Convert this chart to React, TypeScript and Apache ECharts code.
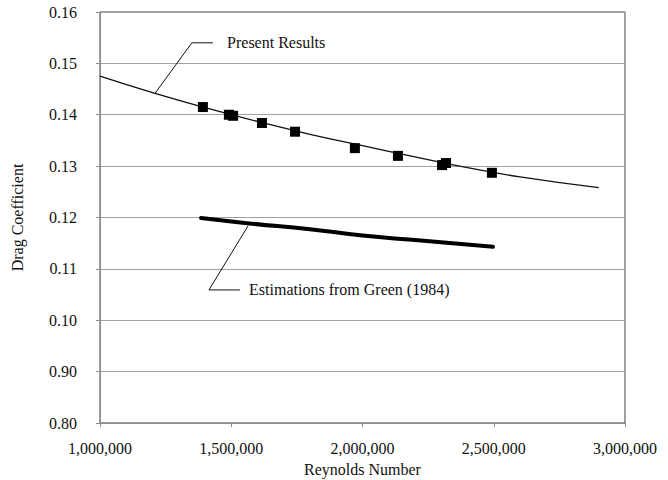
import React, { useEffect, useRef } from "react";
import * as echarts from "echarts";

// Measured points (Present Results)
const presentRe = [1392000, 1491000, 1507000, 1617000, 1743000, 1971000, 2135000, 2303000, 2318000, 2493000];
const presentCd = [0.1415, 0.1400, 0.1398, 0.1384, 0.1367, 0.1335, 0.1320, 0.1302, 0.1306, 0.1287];

// Fitted curve (Present Results)
const fitRe = [1000000, 1200000, 1400000, 1600000, 1800000, 2000000, 2200000, 2400000, 2600000, 2900000];
const fitCd = [0.1475, 0.1443, 0.1414, 0.1387, 0.1362, 0.1340, 0.1318, 0.1297, 0.1279, 0.1258];

// Estimations from Green (1984)
const greenRe = [1385000, 1560000, 1800000, 2000000, 2200000, 2497000];
const greenCd = [0.1199, 0.1189, 0.1177, 0.1165, 0.1156, 0.1143];

// Tick labels as printed on the original y axis
const yTickLabels = ["0.80", "0.90", "0.10", "0.11", "0.12", "0.13", "0.14", "0.15", "0.16"];

// Annotation anchors in data coordinates
const presentLeader = [[1210000, 0.1442], [1350000, 0.1540], [1430000, 0.1540]];
const presentLabelAt = [1484000, 0.1540];
const greenLeader = [[1564000, 0.11837], [1415000, 0.1059], [1533000, 0.1059]];
const greenLabelAt = [1568000, 0.1059];

const FONT = "Liberation Serif";

export default function App() {
  const ref = useRef<HTMLDivElement>(null);
  useEffect(() => {
    if (!ref.current) return;
    const chart = echarts.init(ref.current, undefined, { renderer: "svg" });
    const zip = (a: number[], b: number[]) => a.map((v, i) => [v, b[i]]);
    chart.setOption({
      animation: false,
      backgroundColor: "#ffffff",
      textStyle: { fontFamily: FONT },
      grid: {
        left: 100, top: 12, right: 43, bottom: 57,
        containLabel: false, outerBoundsMode: "none",
        show: true, borderColor: "#404040", borderWidth: 1,
      },
      xAxis: {
        type: "value",
        min: 1000000, max: 3000000, interval: 500000,
        name: "Reynolds Number",
        nameLocation: "middle",
        nameGap: 38,
        nameTextStyle: { fontFamily: FONT, fontSize: 16, color: "#111" },
        axisLine: { show: true, lineStyle: { color: "#8c8c8c", width: 1 } },
        axisTick: { show: true, length: 4, lineStyle: { color: "#8c8c8c" } },
        splitLine: { show: false },
        axisLabel: {
          fontFamily: FONT, fontSize: 16, color: "#111", margin: 17,
          formatter: (v: number) => v.toLocaleString("en-US"),
        },
      },
      yAxis: {
        type: "value",
        min: 0.08, max: 0.16, interval: 0.01,
        name: "Drag Coefficient",
        nameLocation: "middle",
        nameGap: 75,
        nameTextStyle: { fontFamily: FONT, fontSize: 16, color: "#111" },
        axisLine: { show: true, lineStyle: { color: "#8c8c8c", width: 1 } },
        axisTick: { show: true, length: 4, lineStyle: { color: "#8c8c8c" } },
        splitLine: { show: true, lineStyle: { color: "#a0a0a0", width: 1 } },
        axisLabel: {
          fontFamily: FONT, fontSize: 16, color: "#111", margin: 23,
          formatter: (v: number) => yTickLabels[Math.round((v - 0.08) / 0.01)] ?? "",
        },
      },
      series: [
        {
          type: "line", data: zip(fitRe, fitCd), smooth: true, showSymbol: false,
          lineStyle: { color: "#111", width: 1.3 }, z: 2,
        },
        {
          type: "line", data: zip(greenRe, greenCd), smooth: true, showSymbol: false,
          lineStyle: { color: "#000", width: 4, cap: "round" }, z: 2,
        },
        {
          type: "scatter", data: zip(presentRe, presentCd), symbol: "rect", symbolSize: 10,
          itemStyle: { color: "#000", opacity: 1 }, z: 3,
        },
      ],
    });

    const px = (p: number[]) => chart.convertToPixel({ gridIndex: 0 }, p) as number[];
    const pl = px(presentLabelAt);
    const gl = px(greenLabelAt);
    chart.setOption({
      graphic: [
        { type: "polyline", shape: { points: presentLeader.map(px) }, style: { stroke: "#111", lineWidth: 1, fill: null }, z: 10 },
        { type: "text", x: pl[0], y: pl[1], style: { text: "Present Results", fontFamily: FONT, fontSize: 16, fill: "#111", verticalAlign: "middle" }, z: 10 },
        { type: "polyline", shape: { points: greenLeader.map(px) }, style: { stroke: "#111", lineWidth: 1, fill: null }, z: 10 },
        { type: "text", x: gl[0], y: gl[1], style: { text: "Estimations from Green (1984)", fontFamily: FONT, fontSize: 16, fill: "#111", verticalAlign: "middle" }, z: 10 },
      ],
    });
    return () => chart.dispose();
  }, []);
  return <div ref={ref} style={{ width: 668, height: 480, position: "absolute", left: 0, top: 0 }} />;
}
